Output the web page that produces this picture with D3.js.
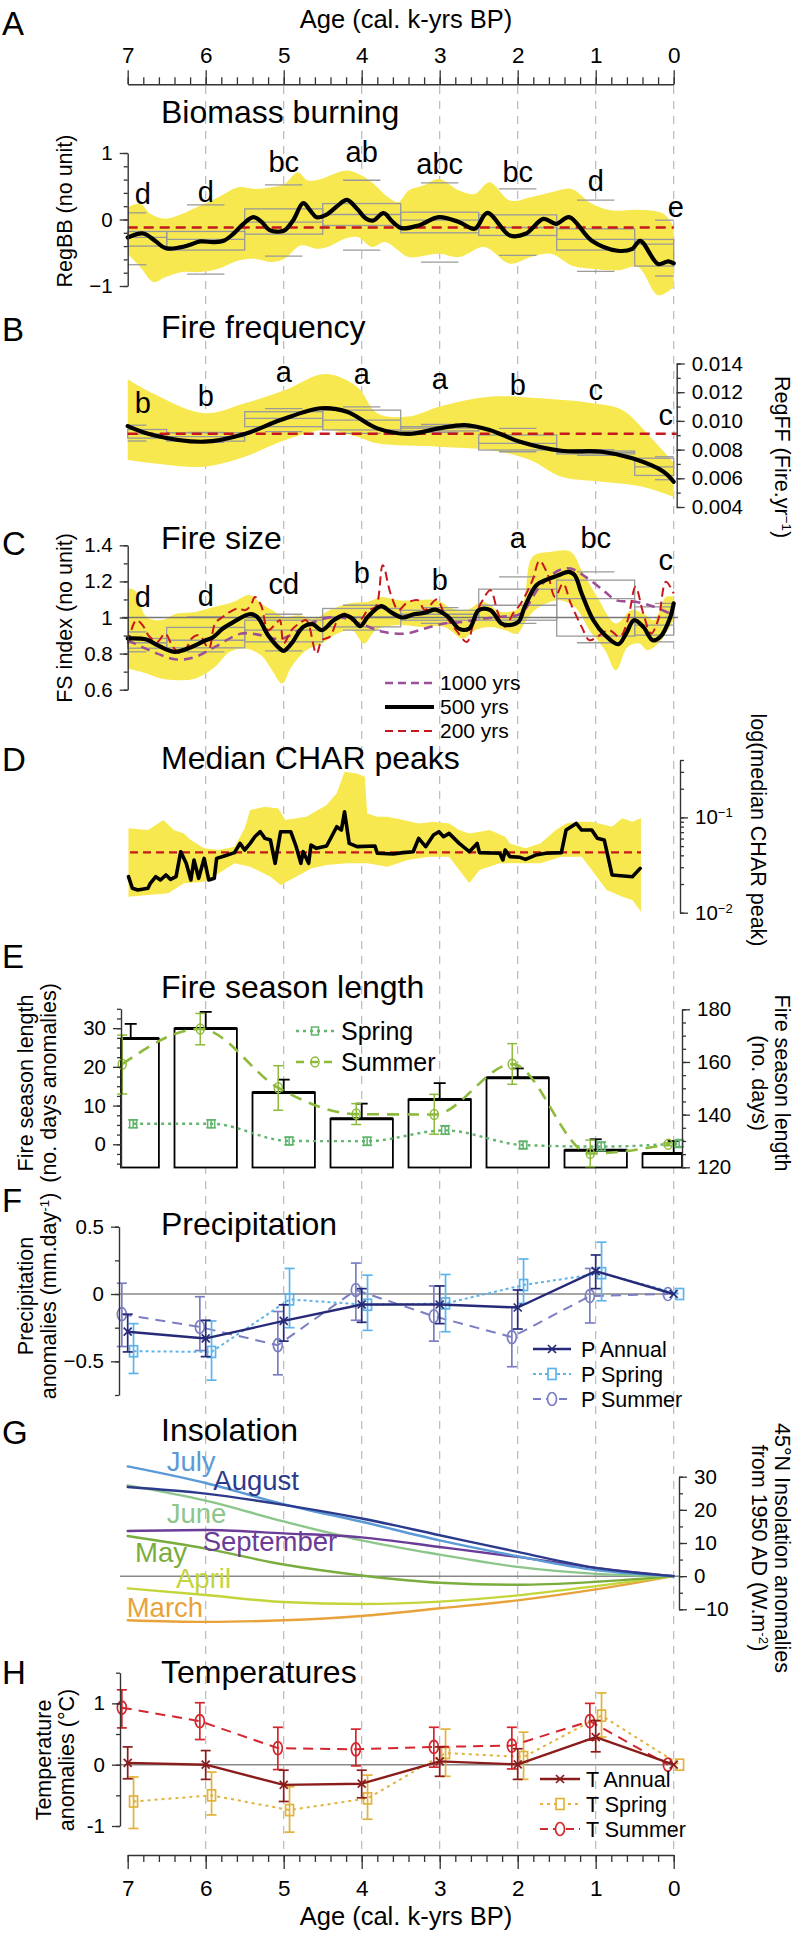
<!DOCTYPE html>
<html><head><meta charset="utf-8">
<script src="https://cdn.jsdelivr.net/npm/d3@7"></script>
<style>
body{margin:0;background:#fff}
svg{display:block}
text{font-family:"Liberation Sans",Arial,Helvetica,sans-serif;fill:#000}
</style>
</head><body><svg id="c" width="796" height="1933"></svg>
<script>
// ---------------- DATA ----------------
const ageTicks = [7,6,5,4,3,2,1,0];
const gridAges = [6,5,4,3,2,1,0];

// A: Biomass burning
const bbLine = [[7,-0.27],[6.8,-0.21],[6.65,-0.32],[6.52,-0.43],[6.33,-0.42],[6.2,-0.38],[6.07,-0.33],[5.9,-0.34],[5.77,-0.32],[5.65,-0.22],[5.52,-0.07],[5.39,0.035],[5.28,-0.04],[5.18,-0.16],[5.0,-0.17],[4.88,-0.015],[4.75,0.245],[4.66,0.135],[4.58,0.035],[4.45,0.075],[4.32,0.195],[4.19,0.295],[4.06,0.16],[3.94,0.01],[3.85,-0.015],[3.72,0.095],[3.6,-0.04],[3.49,-0.13],[3.27,-0.09],[3.01,0.035],[2.75,-0.04],[2.55,-0.14],[2.39,0.1],[2.1,-0.24],[1.9,-0.215],[1.67,0.01],[1.51,-0.065],[1.34,0.035],[1.05,-0.32],[0.72,-0.47],[0.53,-0.44],[0.43,-0.32],[0.2,-0.67],[0.07,-0.63],[0,-0.66]];
const bbUpper = [[7,0.185],[6.84,0.235],[6.71,0.085],[6.52,0.01],[6.3,0.085],[6.07,0.21],[5.84,0.335],[5.58,0.485],[5.37,0.46],[5.16,0.485],[4.99,0.535],[4.82,0.71],[4.69,0.585],[4.52,0.61],[4.3,0.71],[4.17,0.735],[4.0,0.66],[3.87,0.56],[3.66,0.335],[3.53,0.26],[3.4,0.435],[3.21,0.51],[3.01,0.61],[2.75,0.435],[2.55,0.385],[2.36,0.56],[2.1,0.285],[1.83,0.335],[1.57,0.41],[1.31,0.46],[1.05,0.235],[0.79,0.135],[0.46,0.145],[0.13,0.085],[0,-0.115]];
const bbLower = [[7,-0.515],[6.84,-0.715],[6.67,-0.94],[6.52,-0.87],[6.3,-0.79],[6.07,-0.79],[5.84,-0.74],[5.58,-0.615],[5.37,-0.59],[5.16,-0.64],[4.99,-0.59],[4.78,-0.39],[4.56,-0.44],[4.39,-0.39],[4.22,-0.29],[4.05,-0.265],[3.87,-0.415],[3.7,-0.34],[3.53,-0.465],[3.4,-0.565],[3.01,-0.515],[2.75,-0.565],[2.43,-0.415],[2.1,-0.665],[1.83,-0.565],[1.57,-0.515],[1.31,-0.69],[1.05,-0.74],[0.72,-0.765],[0.46,-0.715],[0.2,-1.14],[0,-1.02]];
const bbHi  = [0.1,0.22,0.52,0.59,0.55,0.46,0.29,-0.01];
const bbQ3  = [-0.18,-0.18,0.16,0.24,0.11,0.07,-0.14,-0.3];
const bbMed = [-0.27,-0.3,-0.04,0.075,-0.01,-0.12,-0.3,-0.37];
const bbQ1  = [-0.4,-0.46,-0.22,-0.09,-0.2,-0.24,-0.46,-0.7];
const bbLo  = [-0.68,-0.82,-0.55,-0.46,-0.64,-0.54,-0.78,-0.85];
const bbMean = -0.12;
const bbLetters = ["d","d","bc","ab","abc","bc","d","e"];
const bbLetterY = [0.236,0.26,0.711,0.872,0.687,0.561,0.436,0.035];

// B: Fire frequency
const ffLine = [[7,0.00964],[6.68,0.00902],[6.02,0.00855],[5.5,0.00909],[5.04,0.01006],[4.52,0.01088],[4.19,0.01064],[3.8,0.00948],[3.4,0.00909],[3.01,0.00948],[2.68,0.00971],[2.36,0.00937],[1.97,0.00855],[1.44,0.00792],[0.92,0.00785],[0.53,0.00739],[0.13,0.00646],[0,0.00576]];
const ffUpper = [[7,0.0129],[6.68,0.01192],[6.02,0.01053],[5.5,0.01123],[4.98,0.01215],[4.47,0.01327],[4.06,0.01238],[3.8,0.01053],[3.4,0.0103],[3.01,0.01099],[2.36,0.01169],[1.71,0.01157],[1.05,0.01123],[0.66,0.01076],[0.27,0.0087],[0,0.0071]];
const ffLower = [[7,0.00728],[6.68,0.00705],[6.02,0.00681],[5.5,0.0075],[4.98,0.00867],[4.47,0.00937],[4.06,0.0089],[3.8,0.00844],[3.01,0.0082],[2.36,0.00797],[1.84,0.00728],[1.44,0.00611],[0.92,0.00576],[0.4,0.00541],[0,0.0047]];
const ffHi  = [0.0097,0.0092,0.01086,0.01098,0.00975,0.00948,0.0080,0.0075];
const ffQ3  = [0.0094,0.00917,0.01064,0.01075,0.0096,0.00902,0.0079,0.0074];
const ffMed = [0.0091,0.0089,0.01018,0.01006,0.0095,0.00844,0.0078,0.0068];
const ffQ1  = [0.0088,0.00859,0.0096,0.00937,0.0093,0.00797,0.0077,0.0062];
const ffLo  = [0.0086,0.0085,0.00925,0.00913,0.0092,0.00785,0.0076,0.0059];
const ffMean = 0.0091;
const ffLetters = ["b","b","a","a","a","b","c","c"];
const ffLetterY = [0.01053,0.01104,0.01273,0.01257,0.0122,0.0118,0.01146,0.00971];

// C: Fire size
const fs500 = [[7,0.884],[6.76,0.878],[6.62,0.847],[6.4,0.81],[6.18,0.837],[6.0,0.874],[5.91,0.889],[5.78,0.939],[5.64,0.976],[5.44,1.018],[5.34,1.004],[5.2,0.902],[5.05,0.828],[5.0,0.815],[4.9,0.856],[4.75,0.948],[4.63,0.963],[4.51,0.93],[4.36,0.985],[4.22,1.013],[4.12,0.994],[4.02,0.952],[3.92,1.004],[3.75,1.063],[3.63,1.031],[3.48,1.0],[3.33,1.018],[3.19,1.026],[3.06,1.044],[2.89,1.004],[2.75,0.937],[2.62,0.939],[2.5,1.041],[2.35,1.041],[2.21,0.967],[2.11,0.958],[1.99,0.976],[1.91,1.059],[1.76,1.179],[1.62,1.211],[1.47,1.235],[1.35,1.253],[1.27,1.235],[1.18,1.133],[1.03,0.985],[0.88,0.902],[0.71,0.852],[0.61,0.911],[0.51,0.985],[0.39,0.948],[0.27,0.874],[0.17,0.893],[0.05,0.994],[0,1.078]];
const fs1000 = [[7,0.874],[6.62,0.8],[6.37,0.767],[6.13,0.782],[5.88,0.837],[5.54,0.911],[5.29,0.902],[5.05,0.88],[4.8,0.93],[4.61,0.976],[4.31,1.004],[4.02,0.967],[3.73,0.921],[3.43,0.911],[3.19,0.939],[2.94,0.967],[2.7,0.976],[2.45,0.994],[2.21,1.004],[1.96,1.022],[1.72,1.17],[1.47,1.262],[1.32,1.271],[1.13,1.225],[0.88,1.142],[0.74,1.096],[0.49,1.087],[0.25,1.059],[0,1.013]];
const fs200 = [[7,0.856],[6.89,0.985],[6.81,0.958],[6.72,0.893],[6.62,0.865],[6.52,0.911],[6.42,0.837],[6.32,0.8],[6.25,0.828],[6.18,0.884],[6.08,0.902],[5.96,0.828],[5.88,0.967],[5.78,1.004],[5.69,1.031],[5.59,1.05],[5.49,1.041],[5.42,1.068],[5.37,1.114],[5.29,1.068],[5.2,0.93],[5.1,0.967],[5.05,0.985],[5.0,0.856],[4.9,0.93],[4.8,0.967],[4.71,0.985],[4.58,0.8],[4.51,0.874],[4.41,0.893],[4.31,0.985],[4.22,1.022],[4.12,0.985],[4.02,0.985],[3.92,1.041],[3.82,1.059],[3.73,1.29],[3.63,1.133],[3.53,1.041],[3.43,1.078],[3.28,1.096],[3.19,1.041],[3.04,1.1],[2.94,1.022],[2.79,0.93],[2.65,0.865],[2.55,1.004],[2.45,1.096],[2.35,1.151],[2.25,1.022],[2.16,0.948],[2.06,1.022],[1.96,1.078],[1.81,1.207],[1.72,1.314],[1.62,1.244],[1.52,1.114],[1.42,1.188],[1.32,1.078],[1.18,0.948],[1.08,0.874],[0.98,0.893],[0.83,0.93],[0.69,0.893],[0.59,0.985],[0.49,1.17],[0.39,1.022],[0.29,0.911],[0.2,0.985],[0.1,1.198],[0,1.133]];
const fsUpper = [[7,1.161],[6.91,1.151],[6.76,1.004],[6.57,0.985],[6.37,1.022],[6.13,1.031],[5.88,1.059],[5.64,1.087],[5.44,1.124],[5.29,1.078],[5.15,1.041],[5.0,1.004],[4.8,1.013],[4.61,0.994],[4.41,1.041],[4.17,1.078],[3.92,1.087],[3.75,1.114],[3.53,1.096],[3.28,1.096],[3.04,1.096],[2.84,1.05],[2.65,1.041],[2.45,1.087],[2.21,1.031],[1.96,1.059],[1.81,1.336],[1.57,1.364],[1.32,1.364],[1.18,1.262],[0.98,1.114],[0.74,0.967],[0.54,1.041],[0.39,1.022],[0.25,0.985],[0.1,1.114],[0,1.114]];
const fsLower = [[7,0.717],[6.76,0.69],[6.57,0.662],[6.37,0.653],[6.13,0.662],[5.88,0.727],[5.69,0.81],[5.49,0.828],[5.29,0.791],[5.15,0.708],[5.02,0.634],[4.9,0.727],[4.71,0.819],[4.51,0.856],[4.31,0.911],[4.12,0.93],[3.97,0.856],[3.82,0.93],[3.53,0.958],[3.24,0.948],[2.94,0.948],[2.7,0.884],[2.55,0.93],[2.35,0.948],[2.16,0.93],[2.01,0.911],[1.86,1.004],[1.72,1.059],[1.47,1.096],[1.27,1.059],[1.08,0.93],[0.88,0.819],[0.74,0.708],[0.59,0.837],[0.44,0.856],[0.34,0.819],[0.2,0.856],[0.05,0.948],[0,0.985]];
const fsHi  = [0.92,1.004,1.018,1.068,1.055,1.225,1.253,1.078];
const fsQ3  = [0.884,0.945,0.985,1.05,1.04,1.157,1.207,1.059];
const fsMed = [0.86,0.874,0.93,1.004,1.018,1.068,1.105,0.958];
const fsQ1  = [0.83,0.832,0.865,0.948,0.985,0.985,0.897,0.902];
const fsLo  = [0.81,0.81,0.815,0.93,0.967,0.967,0.86,0.865];
const fsLetters = ["d","d","cd","b","b","a","bc","c"];
const fsLetterY = [1.06,1.064,1.13,1.191,1.152,1.383,1.385,1.263];
const fsLegend = ["1000 yrs","500 yrs","200 yrs"];

// D: Median CHAR peaks (log10 of median CHAR peak)
const charLog = [[6.99,-1.622],[6.94,-1.744],[6.87,-1.762],[6.74,-1.744],[6.71,-1.692],[6.64,-1.622],[6.58,-1.657],[6.51,-1.604],[6.45,-1.65],[6.38,-1.622],[6.32,-1.36],[6.25,-1.482],[6.19,-1.657],[6.15,-1.447],[6.09,-1.639],[6.02,-1.43],[5.96,-1.657],[5.89,-1.639],[5.86,-1.43],[5.76,-1.405],[5.63,-1.37],[5.56,-1.273],[5.5,-1.342],[5.43,-1.273],[5.37,-1.203],[5.3,-1.15],[5.24,-1.22],[5.17,-1.238],[5.11,-1.482],[5.04,-1.15],[4.91,-1.15],[4.84,-1.307],[4.78,-1.482],[4.75,-1.36],[4.68,-1.482],[4.65,-1.29],[4.58,-1.325],[4.45,-1.3],[4.32,-1.098],[4.26,-1.133],[4.22,-0.941],[4.16,-1.273],[4.06,-1.307],[3.83,-1.3],[3.8,-1.377],[3.6,-1.384],[3.47,-1.37],[3.34,-1.36],[3.27,-1.22],[3.18,-1.307],[3.08,-1.185],[3.01,-1.15],[2.95,-1.203],[2.88,-1.168],[2.75,-1.273],[2.62,-1.36],[2.52,-1.273],[2.49,-1.37],[2.23,-1.377],[2.19,-1.447],[2.16,-1.342],[2.1,-1.412],[1.97,-1.419],[1.9,-1.44],[1.77,-1.395],[1.64,-1.377],[1.44,-1.37],[1.38,-1.133],[1.25,-1.063],[1.18,-1.133],[1.05,-1.133],[0.98,-1.22],[0.89,-1.238],[0.79,-1.604],[0.53,-1.622],[0.43,-1.535]];
const charUpper = [[6.99,-1.115],[6.74,-1.133],[6.54,-1.028],[6.41,-1.133],[6.28,-1.168],[6.19,-1.238],[6.02,-1.325],[5.83,-1.342],[5.63,-1.307],[5.5,-1.115],[5.43,-0.923],[5.24,-0.888],[5.07,-0.906],[4.98,-1.028],[4.71,-0.993],[4.45,-0.871],[4.32,-0.748],[4.22,-0.521],[4.06,-0.539],[3.96,-0.574],[3.93,-0.958],[3.8,-0.993],[3.67,-0.993],[3.47,-1.028],[3.27,-1.063],[3.08,-1.045],[2.88,-1.063],[2.75,-1.133],[2.62,-1.168],[2.36,-1.133],[2.16,-1.203],[2.1,-1.273],[1.9,-1.325],[1.71,-1.273],[1.51,-1.133],[1.38,-1.063],[1.25,-1.045],[1.05,-1.045],[0.79,-1.098],[0.66,-1.01],[0.53,-1.045],[0.42,-1.01]];
const charLower = [[6.99,-1.832],[6.74,-1.814],[6.48,-1.797],[6.28,-1.692],[6.02,-1.674],[5.83,-1.587],[5.63,-1.482],[5.43,-1.517],[5.17,-1.622],[5.04,-1.709],[4.84,-1.622],[4.65,-1.535],[4.45,-1.5],[4.19,-1.482],[3.93,-1.482],[3.67,-1.517],[3.41,-1.447],[3.14,-1.412],[2.88,-1.412],[2.75,-1.552],[2.62,-1.692],[2.49,-1.552],[2.23,-1.482],[1.97,-1.482],[1.71,-1.482],[1.44,-1.412],[1.18,-1.412],[1.05,-1.552],[0.86,-1.762],[0.66,-1.832],[0.53,-1.867],[0.42,-1.989]];
const charMean = 0.043;

// E: Fire season length
const fslBar    = [27.3,29.9,13.4,6.6,11.6,17.2,-1.55,-2.4];
const fslBarErr = [31.1,34.2,16.7,10.5,15.8,19.6,1.3,0.85];
const fslSummer   = [20.7,29.8,14.6,7.8,7.7,20.7,-2.4,0];
const fslSummerHi = [28.2,33.8,20.3,10.5,12.9,26.0,1.1,0.4];
const fslSummerLo = [13.0,25.7,8.8,5.1,2.6,15.5,-5.8,-0.4];
const fslSpring   = [5.3,5.3,0.85,0.8,3.6,-0.2,-0.6,0.2];
const fslSpringHi = [6.3,6.3,1.8,1.8,4.8,0.7,0.6,1.0];
const fslSpringLo = [4.3,4.3,-0.1,-0.3,2.6,-1.1,-1.6,-0.6];

// F: Precipitation anomalies
const pAnn   = [-0.28,-0.33,-0.2,-0.078,-0.078,-0.1,0.17,0];
const pAnnHi = [-0.15,-0.195,-0.08,0.04,0.06,0.03,0.29,0];
const pAnnLo = [-0.43,-0.465,-0.35,-0.21,-0.22,-0.26,0.04,0];
const pSpr   = [-0.425,-0.43,-0.04,-0.08,-0.07,0.067,0.155,0];
const pSprHi = [-0.22,-0.2,0.19,0.14,0.145,0.26,0.385,0];
const pSprLo = [-0.59,-0.64,-0.25,-0.27,-0.28,-0.07,-0.05,0];
const pSum   = [-0.15,-0.245,-0.38,0.03,-0.165,-0.32,-0.015,0];
const pSumHi = [0.08,-0.02,-0.13,0.23,0.06,-0.095,0.19,0];
const pSumLo = [-0.39,-0.42,-0.6,-0.195,-0.35,-0.54,-0.215,0];

// G: Insolation anomalies at 45N (W.m-2)
const insMonths = ["July","August","June","September","May","April","March"];
const insJuly  = [33.1,28.1,21.7,16.4,10.8,6.0,1.8,0];
const insAug   = [26.9,24.9,21.5,17.4,12.35,7.3,2.5,0];
const insJune  = [27.4,22.8,16.5,10.8,6.5,2.8,0.7,0];
const insSep   = [13.6,13.9,12.9,11.7,8.8,5.8,2.5,0];
const insMay   = [12.1,8.3,3.5,0.2,-2.0,-2.6,-1.7,0];
const insApril = [-3.7,-5.7,-7.8,-8.4,-7.7,-5.8,-3.0,0];
const insMarch = [-13.3,-13.8,-13.3,-12.0,-9.7,-7.3,-4.0,0];

// H: Temperature anomalies
const tAnn   = [0.03,0,-0.33,-0.31,0.054,0.005,0.45,0];
const tAnnHi = [0.29,0.23,-0.09,-0.09,0.29,0.26,0.72,0];
const tAnnLo = [-0.23,-0.24,-0.6,-0.54,-0.19,-0.24,0.21,0];
const tSpr   = [-0.6,-0.5,-0.74,-0.55,0.19,0.125,0.8,0];
const tSprHi = [-0.2,-0.12,-0.36,-0.17,0.58,0.53,1.17,0];
const tSprLo = [-1.04,-0.82,-1.1,-0.89,-0.19,-0.24,0.45,0];
const tSum   = [0.93,0.71,0.27,0.25,0.29,0.31,0.71,0];
const tSumHi = [1.22,1.01,0.61,0.58,0.61,0.61,1.0,0];
const tSumLo = [0.6,0.41,-0.08,-0.02,-0.04,-0.07,0.4,0];

// ---------------- DRAW ----------------
const svg = d3.select("#c");
const YELLOW = "#f7e84f", GRAYBOX = "#9a9a9a", RED = "#c8161d";
const TICKFS = 20.5;
const x = d3.scaleLinear().domain([7,0]).range([127.7,673.7]);

const yA = d3.scaleLinear().domain([-1,1]).range([286,153]);
const yB = d3.scaleLinear().domain([0.004,0.014]).range([507,363.5]);
const yC = d3.scaleLinear().domain([0.6,1.4]).range([689.7,545.3]);
const yD = d3.scaleLog().domain([0.01,0.4]).range([912.7,760]);
const yE = d3.scaleLinear().domain([-6,35]).range([1167.5,1008.8]);
const yE2 = d3.scaleLinear().domain([120,180]).range([1167.3,1009.3]);
const yF = d3.scaleLinear().domain([-0.75,0.5]).range([1395,1226.7]);
const yG = d3.scaleLinear().domain([-10,30]).range([1609.3,1476.7]);
const yH = d3.scaleLinear().domain([-1,1.5]).range([1826,1672.7]);

// vertical dashed grid
svg.append("g").selectAll("line").data(gridAges).join("line")
  .attr("x1",d=>x(d)).attr("x2",d=>x(d)).attr("y1",86).attr("y2",1855)
  .attr("stroke","#b4b4b4").attr("stroke-width",1.1).attr("stroke-dasharray","8,7");

function styleAxis(g, fs){
  g.selectAll("path.domain").attr("stroke","#333").attr("stroke-width",1.4);
  g.selectAll(".tick line").attr("stroke","#333").attr("stroke-width",1.3);
  g.selectAll("text").attr("font-size",fs).attr("fill","#000")
    .style("font-family",'"Liberation Sans",Arial,sans-serif');
}
function yAxis(side, scale, xpos, minor, major, fmt, fs){
  const mk = side==="left"?d3.axisLeft:d3.axisRight;
  const g1 = svg.append("g").attr("transform",`translate(${xpos},0)`)
    .call(mk(scale).tickValues(minor).tickSize(4).tickSizeOuter(0).tickFormat(""));
  styleAxis(g1,TICKFS);
  const g2 = svg.append("g").attr("transform",`translate(${xpos},0)`)
    .call(mk(scale).tickValues(major).tickSize(8).tickSizeOuter(0).tickPadding(7).tickFormat(fmt));
  styleAxis(g2,fs||TICKFS);
  g2.select("path.domain").remove();
  return g2;
}
function rng(a,b,s){const r=[];for(let v=a;v<=b+1e-9;v+=s)r.push(+v.toFixed(6));return r;}

// age axes
function ageAxis(pos){
  const mk = pos==="top"?d3.axisTop:d3.axisBottom;
  const yy = pos==="top"?84.3:1855;
  const g1 = svg.append("g").attr("transform",`translate(0,${yy})`)
    .call(mk(x).tickValues(rng(0,7,0.2)).tickSize(7).tickSizeOuter(0).tickFormat(""));
  styleAxis(g1,22);
  const g2 = svg.append("g").attr("transform",`translate(0,${yy})`)
    .call(mk(x).tickValues(ageTicks).tickSize(14).tickSizeOuter(0).tickPadding(pos==="top"?7:11).tickFormat(d3.format("d")));
  styleAxis(g2,22.5);
  g2.select("path.domain").remove();
  svg.append("text").attr("x",406).attr("y",pos==="top"?28:1925).attr("text-anchor","middle")
    .attr("font-size",25.5).text("Age (cal. k-yrs BP)");
}
ageAxis("top"); ageAxis("bottom");

// panel letters and titles
const panels = [["A",35,"Biomass burning",123],["B",341,"Fire frequency",338],["C",555,"Fire size",549],
  ["D",771,"Median CHAR peaks",769],["E",968,"Fire season length",998],["F",1212,"Precipitation",1235],
  ["G",1444,"Insolation",1441],["H",1684,"Temperatures",1683]];
panels.forEach(p=>{
  svg.append("text").attr("x",2).attr("y",p[1]).attr("font-size",33).text(p[0]);
  svg.append("text").attr("x",161).attr("y",p[3]).attr("font-size",32).text(p[2]);
});

// rotated axis titles
function vlabel(lines, xs, yc, rot, fs){
  lines.forEach((ln,i)=>{
    const t = svg.append("text").attr("transform",`translate(${xs[i]},${yc}) rotate(${rot})`)
      .attr("text-anchor","middle").attr("font-size",fs||21.5);
    ln.forEach(seg=>{
      if(typeof seg==="string") t.append("tspan").text(seg);
      else t.append("tspan").attr("baseline-shift","super").attr("font-size",(fs||21.5)*0.62).text(seg.sup);
    });
  });
}

const lineGen = (ys,curve)=>d3.line().x(d=>x(d[0])).y(d=>ys(d[1])).curve(curve||d3.curveCatmullRom.alpha(0.5));
function band(up, lo, ys, curve){
  const lg = lineGen(ys,curve);
  const p1 = lg(up), p2 = lg(lo.slice().reverse());
  svg.append("path").attr("d",p1+"L"+p2.slice(1)+"Z").attr("fill",YELLOW).attr("stroke","none");
}
function boxes(ys, hi, q3, med, q1, lo){
  const g = svg.append("g").attr("fill","none").attr("stroke",GRAYBOX).attr("stroke-width",1.3);
  ageTicks.forEach((a,i)=>{
    const xl = x(Math.min(7,a+0.5)), xr = x(Math.max(0,a-0.5));
    g.append("rect").attr("x",xl).attr("width",xr-xl).attr("y",ys(q3[i])).attr("height",ys(q1[i])-ys(q3[i]));
    g.append("line").attr("x1",xl).attr("x2",xr).attr("y1",ys(med[i])).attr("y2",ys(med[i]));
    const cl = x(Math.min(7,a+0.24)), cr = x(Math.max(0,a-0.24));
    [hi[i],lo[i]].forEach(v=>g.append("line").attr("x1",cl).attr("x2",cr).attr("y1",ys(v)).attr("y2",ys(v)));
  });
}
function letters(ys, labs, vals, dx7, dx0){
  ageTicks.forEach((a,i)=>{
    const dx = a===7?dx7:(a===0?dx0:0);
    svg.append("text").attr("x",x(a)+dx).attr("y",ys(vals[i])).attr("text-anchor","middle")
      .attr("font-size",29).text(labs[i]);
  });
}
function hline(ys, v, x1, x2, color, w, dash){
  svg.append("line").attr("x1",x1).attr("x2",x2).attr("y1",ys(v)).attr("y2",ys(v))
    .attr("stroke",color).attr("stroke-width",w).attr("stroke-dasharray",dash||null);
}
function path(data, ys, color, w, dash, curve){
  svg.append("path").attr("d",lineGen(ys,curve)(data)).attr("fill","none").attr("stroke",color)
    .attr("stroke-width",w).attr("stroke-dasharray",dash||null).attr("stroke-linejoin","round").attr("stroke-linecap",dash?"butt":"round");
}

// ---- Panel A ----
band(bbUpper, bbLower, yA);
boxes(yA, bbHi, bbQ3, bbMed, bbQ1, bbLo);
hline(yA, bbMean, x(7), x(0), RED, 2.6, "10,6");
path(bbLine, yA, "#000", 4.2);
yAxis("left", yA, 127.7, rng(-1,1,0.2), [-1,0,1], d3.format("d"));
letters(yA, bbLetters, bbLetterY, 15, 2);
vlabel([["RegBB (no unit)"]], [72], 211, -90);

// ---- Panel B ----
band(ffUpper, ffLower, yB);
boxes(yB, ffHi, ffQ3, ffMed, ffQ1, ffLo);
hline(yB, ffMean, x(7), 676.7, RED, 2.6, "10,6");
path(ffLine, yB, "#000", 4.2);
yAxis("right", yB, 676.7, rng(0.004,0.014,0.001), rng(0.004,0.014,0.002), d3.format(".3f"));
letters(yB, ffLetters, ffLetterY, 15, -8);
vlabel([["RegFF (Fire.yr",{sup:"−1"},")"]], [775], 457, 90);

// ---- Panel C ----
band(fsUpper, fsLower, yC);
boxes(yC, fsHi, fsQ3, fsMed, fsQ1, fsLo);
hline(yC, 1, 122, 678, "#777", 1.6);
path(fs1000, yC, "#9c4f96", 2.6, "9,6");
path(fs200, yC, RED, 2.0, "9,5");
path(fs500, yC, "#000", 4.2);
yAxis("left", yC, 127.7, rng(0.6,1.4,0.1), [0.6,0.8,1,1.2,1.4], d=>d===1?"1":d3.format(".1f")(d));
letters(yC, fsLetters, fsLetterY, 15, -8);
vlabel([["FS index (no unit)"]], [72], 618, -90);
// legend C
[["#9c4f96",2.6,"8,5"],["#000",4.2,null],[RED,2.2,"8,5"]].forEach((s,i)=>{
  const yy = [683,707,731][i];
  svg.append("line").attr("x1",385).attr("x2",434).attr("y1",yy).attr("y2",yy)
    .attr("stroke",s[0]).attr("stroke-width",s[1]).attr("stroke-dasharray",s[2]);
  svg.append("text").attr("x",440).attr("y",yy+7).attr("font-size",21).text(fsLegend[i]);
});

// ---- Panel D ----
const dPts = a=>a.map(d=>[d[0],Math.pow(10,d[1])]);
band(dPts(charUpper), dPts(charLower), yD, d3.curveLinear);
hline(yD, charMean, x(6.97), x(0.42), RED, 2.2, "8,5");
path(dPts(charLog), yD, "#000", 3.6, null, d3.curveLinear);
{
  const minor = [0.01,0.02,0.03,0.04,0.05,0.06,0.07,0.08,0.09,0.1,0.2,0.3,0.4];
  const g1 = svg.append("g").attr("transform","translate(680,0)")
    .call(d3.axisRight(yD).tickValues(minor).tickSize(4).tickSizeOuter(0).tickFormat(""));
  styleAxis(g1,TICKFS);
  const g2 = svg.append("g").attr("transform","translate(680,0)")
    .call(d3.axisRight(yD).tickValues([0.01,0.1]).tickSize(8).tickSizeOuter(0).tickFormat(""));
  styleAxis(g2,TICKFS); g2.select("path.domain").remove();
  [[0.01,"−2"],[0.1,"−1"]].forEach(t=>{
    const tx = svg.append("text").attr("x",695).attr("y",yD(t[0])+7).attr("font-size",TICKFS);
    tx.append("tspan").text("10");
    tx.append("tspan").attr("baseline-shift","super").attr("font-size",13).text(t[1]);
  });
}
vlabel([["log(median CHAR peak)"]], [751], 830, 90);

// ---- Panel E ----
{
  const xl = 121, xr = 682;
  const bw = 0.4;
  ageTicks.forEach((a,i)=>{
    const x0 = Math.max(xl, x(a+bw)), x1 = Math.min(xr, x(a-bw));
    svg.append("rect").attr("x",x0).attr("width",x1-x0).attr("y",yE(fslBar[i])).attr("height",yE(-6)-yE(fslBar[i]))
      .attr("fill","#fff").attr("stroke","#000").attr("stroke-width",1.8);
    svg.append("line").attr("x1",x0).attr("x2",x1).attr("y1",yE(fslBar[i])).attr("y2",yE(fslBar[i]))
      .attr("stroke","#000").attr("stroke-width",3);
    const xe = x(a)+(a===7?3:0);
    svg.append("line").attr("x1",xe).attr("x2",xe).attr("y1",yE(fslBar[i])).attr("y2",yE(fslBarErr[i])).attr("stroke","#000").attr("stroke-width",1.8);
    svg.append("line").attr("x1",xe-6).attr("x2",xe+6).attr("y1",yE(fslBarErr[i])).attr("y2",yE(fslBarErr[i])).attr("stroke","#000").attr("stroke-width",1.8);
  });
  const SUM = "#8dba3b", SPR = "#62b46f";
  function seasonal(vals, hi, lo, off, color, dash, marker, w){
    const pts = ageTicks.map((a,i)=>[a+off, vals[i]]);
    path(pts, yE, color, w, dash, d3.curveMonotoneX);
    ageTicks.forEach((a,i)=>{
      const xx = x(a+off);
      const g = svg.append("g").attr("stroke",color).attr("stroke-width",1.5).attr("fill","none");
      g.append("line").attr("x1",xx).attr("x2",xx).attr("y1",yE(hi[i])).attr("y2",yE(lo[i]));
      [hi[i],lo[i]].forEach(v=>g.append("line").attr("x1",xx-5).attr("x2",xx+5).attr("y1",yE(v)).attr("y2",yE(v)));
      if(marker==="o") g.append("ellipse").attr("cx",xx).attr("cy",yE(vals[i])).attr("rx",4).attr("ry",5);
      else g.append("rect").attr("x",xx-3.5).attr("y",yE(vals[i])-4).attr("width",7).attr("height",8);
    });
  }
  seasonal(fslSpring, fslSpringHi, fslSpringLo, -0.07, SPR, "3,4", "s", 2.4);
  seasonal(fslSummer, fslSummerHi, fslSummerLo, 0.07, SUM, "12,8", "o", 2.6);
  yAxis("left", yE, 121, rng(-5,35,2.5), [0,10,20,30], d3.format("d"));
  yAxis("right", yE2, 682, rng(120,180,5), [120,140,160,180], d3.format("d"));
  // legend
  [["Spring",SPR,"3,4","s",1031],["Summer",SUM,"8,6","o",1062]].forEach(l=>{
    svg.append("line").attr("x1",296).attr("x2",334).attr("y1",l[4]).attr("y2",l[4]).attr("stroke",l[1]).attr("stroke-width",2.4).attr("stroke-dasharray",l[2]);
    if(l[3]==="s") svg.append("rect").attr("x",311.5).attr("y",l[4]-4).attr("width",7).attr("height",8).attr("fill","none").attr("stroke",l[1]).attr("stroke-width",1.5);
    else svg.append("ellipse").attr("cx",315).attr("cy",l[4]).attr("rx",4).attr("ry",5).attr("fill","none").attr("stroke",l[1]).attr("stroke-width",1.5);
    svg.append("text").attr("x",341).attr("y",l[4]+9).attr("font-size",25).text(l[0]);
  });
  vlabel([["Fire season length"],["(no. days anomalies)"]], [33,56], 1083, -90);
  vlabel([["Fire season length"],["(no. days)"]], [775,752], 1083, 90);
}

// generic seasonal point panel
function drawMarker(g, marker, xx, yy){
  if(marker==="o") g.append("ellipse").attr("cx",xx).attr("cy",yy).attr("rx",4.5).attr("ry",6.5);
  else if(marker==="s") g.append("rect").attr("x",xx-4).attr("y",yy-5.5).attr("width",8).attr("height",11);
  else { g.append("line").attr("x1",xx-4).attr("x2",xx+4).attr("y1",yy-4).attr("y2",yy+4);
         g.append("line").attr("x1",xx-4).attr("x2",xx+4).attr("y1",yy+4).attr("y2",yy-4); }
}
function pointSeries(ys, vals, hi, lo, off, color, dash, marker, w){
  const pts = ageTicks.map((a,i)=>[a+off, vals[i]]);
  path(pts, ys, color, w, dash, d3.curveLinear);
  const g = svg.append("g").attr("stroke",color).attr("stroke-width",1.7).attr("fill","none");
  ageTicks.forEach((a,i)=>{
    const xx = x(a+off);
    if(hi[i]!==lo[i]){
      g.append("line").attr("x1",xx).attr("x2",xx).attr("y1",ys(hi[i])).attr("y2",ys(lo[i]));
      [hi[i],lo[i]].forEach(v=>g.append("line").attr("x1",xx-5).attr("x2",xx+5).attr("y1",ys(v)).attr("y2",ys(v)));
    }
    drawMarker(g, marker, xx, ys(vals[i]));
  });
}
function legend3(labels, styles, x1, x2, tx, ys){
  labels.forEach((lab,i)=>{
    const s = styles[i], yy = ys[i];
    svg.append("line").attr("x1",x1).attr("x2",x2).attr("y1",yy).attr("y2",yy).attr("stroke",s[0]).attr("stroke-width",s[1]).attr("stroke-dasharray",s[2]);
    const g = svg.append("g").attr("stroke",s[0]).attr("stroke-width",1.7).attr("fill","#fff");
    drawMarker(g, s[3], (x1+x2)/2, yy);
    svg.append("text").attr("x",tx).attr("y",yy+8).attr("font-size",21.5).text(lab);
  });
}

// ---- Panel F ----
hline(yF, 0, 120, x(0), "#888", 1.5);
{
  const ANN="#262a78", SPR="#5db4ea", SUM="#7b7ec2";
  pointSeries(yF, pSum, pSumHi, pSumLo, 0.075, SUM, "10,7", "o", 2.0);
  pointSeries(yF, pSpr, pSprHi, pSprLo, -0.075, SPR, "3,3", "s", 2.0);
  pointSeries(yF, pAnn, pAnnHi, pAnnLo, 0, ANN, null, "x", 2.4);
  yAxis("left", yF, 119, rng(-0.75,0.5,0.25), [-0.5,0,0.5], d=>d===0?"0":(d<0?"−":"")+Math.abs(d).toString());
  legend3(["P Annual","P Spring","P Summer"], [[ANN,2.4,null,"x"],[SPR,2,"3,3","s"],[SUM,2,"8,5","o"]], 533, 571, 581, [1349,1374,1399]);
  vlabel([["Precipitation"],["anomalies (mm.day",{sup:"-1"},")"]], [33,56], 1296, -90);
}

// ---- Panel G ----
hline(yG, 0, 120, 679, "#888", 1.5);
{
  const series = [insJuly, insAug, insJune, insSep, insMay, insApril, insMarch];
  const colors = ["#5b9ad6","#2c3a8c","#8cc68a","#6b3c97","#79ad3d","#c3d53a","#e8a23a"];
  const order = [6,5,4,2,3,0,1];
  order.forEach(k=>{
    path(ageTicks.map((a,i)=>[a,series[k][i]]), yG, colors[k], 2.4, null, d3.curveMonotoneX);
  });
  const lab = [[166.7,1470.7],[213.3,1490],[166.7,1522.7],[202.7,1551],[135,1561.7],[176,1588.3],[126.7,1617.3]];
  insMonths.forEach((m,k)=>{
    svg.append("text").attr("x",lab[k][0]).attr("y",lab[k][1]).attr("font-size",27.5).style("fill",colors[k]).text(m);
  });
  yAxis("right", yG, 679, rng(-10,30,5), [-10,0,10,20,30], d3.format("d"));
  vlabel([["45°N Insolation anomalies"],["from 1950 AD (W.m",{sup:"-2"},")"]], [775,752], 1548, 90);
}

// ---- Panel H ----
hline(yH, 0, 120, x(0), "#888", 1.5);
{
  const ANN="#8b1c1c", SPR="#e2b23a", SUM="#d3262d";
  pointSeries(yH, tSpr, tSprHi, tSprLo, -0.075, SPR, "3,4", "s", 2.0);
  pointSeries(yH, tSum, tSumHi, tSumLo, 0.075, SUM, "10,7", "o", 2.0);
  pointSeries(yH, tAnn, tAnnHi, tAnnLo, 0, ANN, null, "x", 2.4);
  yAxis("left", yH, 120, rng(-1,1.5,0.5), [-1,0,1], d=>d<0?"-"+Math.abs(d):String(d));
  legend3(["T Annual","T Spring","T Summer"], [[ANN,2.4,null,"x"],[SPR,2,"3,4","s"],[SUM,2,"8,5","o"]], 540, 580, 586, [1779,1804,1829]);
  vlabel([["Temperature"],["anomalies (°C)"]], [51,74], 1760, -90);
}
</script></body></html>
